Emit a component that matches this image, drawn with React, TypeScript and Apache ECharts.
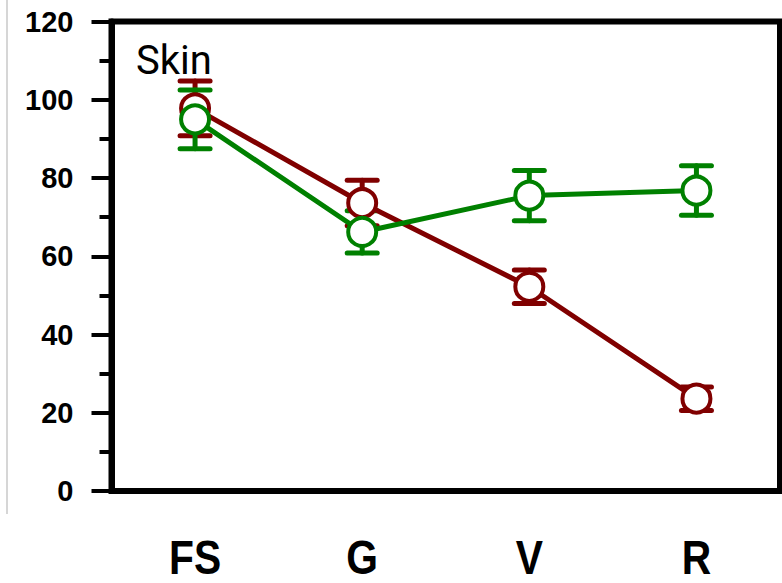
import React, { useEffect, useRef } from "react";
import * as echarts from "echarts";

const categories = ["FS", "G", "V", "R"];
const redMeans = [97.8, 73.6, 52.2, 23.6];
const redErrors = [7.0, 5.8, 4.3, 3.0];
const greenMeans = [95.0, 66.2, 75.5, 76.8];
const greenErrors = [7.5, 5.4, 6.4, 6.3];
const yTicks = { min: 0, max: 120, interval: 20 };
const panelLabel = "Skin";

const RED = "#800000";
const GREEN = "#008000";

function errorSeries(means: number[], errs: number[], color: string) {
  const data = means.map((m, i) => [i, m - errs[i], m + errs[i]]);
  return {
    type: "custom",
    data,
    silent: true,
    renderItem: (params: any, api: any) => {
      const idx = api.value(0);
      const low = api.coord([idx, api.value(1)]);
      const high = api.coord([idx, api.value(2)]);
      const hw = 15;
      const style = { stroke: color, lineWidth: 5, lineCap: "round" };
      return {
        type: "group",
        children: [
          { type: "line", shape: { x1: high[0], y1: high[1], x2: low[0], y2: low[1] }, style },
          { type: "line", shape: { x1: high[0] - hw, y1: high[1], x2: high[0] + hw, y2: high[1] }, style },
          { type: "line", shape: { x1: low[0] - hw, y1: low[1], x2: low[0] + hw, y2: low[1] }, style },
        ],
      };
    },
  };
}

function lineSeries(means: number[], color: string) {
  return {
    type: "line",
    data: means,
    symbol: "circle",
    symbolSize: 28,
    lineStyle: { color, width: 5 },
    itemStyle: { color: "#ffffff", borderColor: color, borderWidth: 4 },
  };
}

export default function App() {
  const ref = useRef<HTMLDivElement>(null);
  useEffect(() => {
    if (!ref.current) return;
    const chart = echarts.init(ref.current, null, { renderer: "svg" });
    chart.setOption({
      animation: false,
      backgroundColor: "#ffffff",
      grid: {
        left: 111.5,
        top: 21.5,
        right: 2,
        bottom: 92,
        show: true,
        borderColor: "#000000",
        borderWidth: 6,
        backgroundColor: "transparent",
      },
      xAxis: {
        type: "category",
        data: categories,
        boundaryGap: true,
        axisLine: { lineStyle: { color: "#000", width: 6 } },
        axisTick: { alignWithLabel: true, length: 20, lineStyle: { color: "#000", width: 4 } },
        axisLabel: { show: false },
        splitLine: { show: false },
      },
      yAxis: {
        type: "value",
        min: yTicks.min,
        max: yTicks.max,
        interval: yTicks.interval,
        axisLine: { show: true, lineStyle: { color: "#000", width: 6 } },
        axisTick: { show: true, length: 20, lineStyle: { color: "#000", width: 4 } },
        minorTick: { show: true, splitNumber: 2, length: 12, lineStyle: { color: "#000", width: 4 } },
        axisLabel: {
          color: "#000",
          fontFamily: "'Liberation Sans', Arial, sans-serif",
          fontWeight: "bold",
          fontSize: 29,
          margin: 38,
        },
        splitLine: { show: false },
      },
      graphic: [
        {
          id: "leftEdge",
          type: "line",
          shape: { x1: 7, y1: 0, x2: 7, y2: 514 },
          style: { stroke: "#c8c8c8", lineWidth: 1.5 },
        },
        {
          id: "panel",
          type: "text",
          left: 136,
          top: 40,
          style: {
            text: panelLabel,
            fontFamily: "Roboto, 'Liberation Sans', Arial, sans-serif",
            fontSize: 40,
            fill: "#000",
          },
          z: 100,
        },
      ],
      series: [
        errorSeries(redMeans, redErrors, RED),
        lineSeries(redMeans, RED),
        errorSeries(greenMeans, greenErrors, GREEN),
        lineSeries(greenMeans, GREEN),
      ],
    });
    const labels = categories.map((c, i) => {
      const px = chart.convertToPixel({ xAxisIndex: 0 }, c) as number;
      return {
        id: "xl" + i,
        type: "text",
        x: px,
        y: 557,
        scaleX: 0.85,
        style: {
          text: c,
          fontFamily: "'Liberation Sans', Arial, sans-serif",
          fontWeight: "bold",
          fontSize: 48,
          fill: "#000",
          align: "center",
          verticalAlign: "middle",
        },
      };
    });
    chart.setOption({ graphic: labels });
    return () => chart.dispose();
  }, []);
  return <div ref={ref} style={{ width: 782, height: 583, position: "absolute", left: 0, top: 0 }} />;
}
